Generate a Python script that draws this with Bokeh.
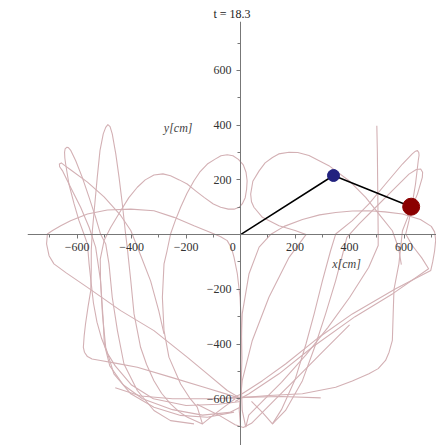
from bokeh.plotting import figure
from bokeh.models import Range1d, FixedTicker, Label
from bokeh.embed import file_html
from bokeh.resources import INLINE

# ---------------- data (cm) ----------------
major_ticks = [-600, -400, -200, 200, 400, 600]
minor_ticks = [-700, -500, -300, -100, 100, 300, 500, 700]
tick_text = {-600: "\u2212600", -400: "\u2212400", -200: "\u2212200",
             200: "200", 400: "400", 600: "600"}

rod_x = [0, 341, 626]
rod_y = [0, 216, 102]
bob1 = (341, 216)
bob2 = (626, 102)
time_text = "18.3"

strand_01 = [(-6, -595), (-49, -570), (-122, -509), (-195, -449), (-318, -351), (-440, -278),
             (-562, -193), (-640, -140), (-685, -107), (-703, -77), (-712, -34), (-709, 2),
             (-690, 15), (-660, 32), (-624, 51), (-562, 75), (-489, 90), (-403, 93),
             (-318, 87), (-244, 63), (-171, 32), (-110, 8), (-73, -8), (-49, -22),
             (-33, -50), (-24, -83), (-12, -143), (-2, -229), (3, -330), (5, -450),
             (2, -560), (-5, -640), (0, -704)]
strand_02 = [(-24, -649), (-122, -668), (-220, -661), (-318, -631), (-403, -582), (-465, -509),
             (-495, -412), (-507, -290), (-514, -168), (-515, -90), (-501, -22), (-477, 26),
             (-440, 87), (-410, 135), (-379, 173), (-350, 200), (-318, 218), (-285, 222),
             (-257, 215), (-225, 200), (-196, 185), (-165, 160), (-134, 136), (-100, 112),
             (-73, 100), (-45, 93), (-24, 93), (-5, 100), (6, 112), (17, 135), (22, 165),
             (24, 197), (20, 228), (10, 255), (-8, 275), (-28, 288), (-49, 292), (-72, 288),
             (-95, 275), (-122, 258), (-150, 228), (-171, 197), (-197, 150), (-220, 100),
             (-240, 50), (-257, 2), (-270, -60), (-281, -107), (-287, -229), (-281, -351),
             (-263, -448), (-220, -546), (-185, -600), (-159, -631), (-140, -692),
             (-100, -660), (-60, -630), (-20, -600)]
strand_03 = [(-12, -595), (-134, -558), (-257, -521), (-379, -485), (-460, -470), (-514, -460),
             (-545, -455), (-562, -446), (-573, -430), (-577, -412), (-574, -370), (-569, -326),
             (-560, -265), (-550, -205), (-548, -130), (-548, -58), (-544, 14), (-535, 112),
             (-526, 209), (-516, 307), (-504, 368), (-495, 392), (-487, 402), (-479, 395),
             (-471, 368), (-458, 295), (-446, 209), (-434, 112), (-422, 2), (-416, -46),
             (-403, -168), (-391, -290), (-367, -412), (-345, -475), (-318, -534),
             (-290, -580), (-257, -619), (-225, -648), (-195, -668), (-140, -692)]
strand_04 = [(-171, -692), (-257, -680), (-318, -643), (-379, -570), (-428, -473), (-452, -351),
             (-471, -229), (-483, -107), (-495, -34), (-514, 2), (-532, 63), (-556, 136),
             (-581, 209), (-605, 270), (-624, 309), (-632, 318), (-638, 319), (-644, 313),
             (-646, 301), (-645, 280), (-642, 258), (-630, 185), (-611, 112), (-593, 51),
             (-575, 2), (-562, -34), (-556, -107), (-548, -180), (-540, -250), (-527, -320),
             (-510, -380), (-488, -435), (-460, -480), (-400, -550), (-320, -600),
             (-200, -625), (-80, -620), (0, -610)]
strand_05 = [(-281, -363), (-300, -280), (-330, -170), (-365, -80), (-403, 15), (-440, 70),
             (-501, 138), (-562, 192), (-624, 237), (-645, 252), (-658, 262), (-665, 258),
             (-664, 248), (-654, 234), (-624, 173), (-587, 100), (-556, 27), (-532, -46),
             (-514, -168), (-505, -300), (-500, -400), (-480, -480), (-430, -550),
             (-360, -600), (-250, -640), (-140, -660), (-40, -650), (0, -630)]
strand_06 = [(19, -704), (6, -643), (0, -473), (6, -290), (31, -143), (68, -46), (110, 0),
             (160, 30), (227, 55), (290, 72), (349, 81), (410, 86), (471, 87), (530, 83),
             (594, 75), (660, 55), (700, 30), (712, 10), (716, -20), (712, -60), (705, -100),
             (698, -131), (569, -198), (410, -290), (288, -375), (165, -473), (80, -534),
             (6, -582), (-40, -600)]
strand_07 = [(40, -610), (80, -650), (117, -692), (150, -640), (200, -530), (240, -400),
             (270, -290), (300, -170), (330, -60), (349, 2), (410, 51), (471, 112),
             (532, 185), (594, 258), (630, 295), (642, 305), (649, 307), (654, 300),
             (655, 290), (652, 270), (642, 185), (630, 112), (618, 51), (606, 2), (630, -40),
             (665, -85), (690, -125), (560, -215), (420, -300), (263, -412), (141, -509),
             (31, -582), (-20, -610)]
strand_08 = [(117, -692), (165, -643), (227, -534), (276, -400), (312, -290), (349, -168),
             (375, -70), (390, -10), (435, 39), (496, 100), (557, 161), (618, 221),
             (645, 238), (661, 240), (668, 228), (667, 209), (649, 148), (618, 75), (594, 14),
             (581, -107), (563, -200), (560, -290), (557, -387), (545, -430), (532, -460),
             (505, -490), (471, -509), (410, -535), (349, -558), (227, -582), (104, -588),
             (19, -595), (-30, -598)]
strand_09 = [(500, 398), (502, 300), (503, 200), (504, 100), (505, 0), (505, -40),
             (470, -120), (400, -230), (320, -340), (240, -440), (150, -540), (80, -610),
             (30, -660), (19, -704)]
strand_10 = [(590, -110), (580, -50), (557, 14), (508, 75), (459, 136), (398, 197),
             (324, 252), (251, 289), (210, 300), (178, 301), (140, 295), (117, 282),
             (90, 262), (68, 233), (45, 195), (37, 148), (40, 120), (49, 100), (80, 63),
             (141, 32), (200, 15), (240, 0), (178, -83), (104, -229), (43, -387),
             (6, -534), (0, -600)]
strand_11 = [(-460, -560), (-367, -590), (-250, -600), (-100, -600), (0, -595), (150, -592),
             (294, -597)]
strand_12 = [(-160, -620), (-80, -660), (-20, -695), (10, -705), (40, -690), (80, -650),
             (130, -600), (200, -530), (300, -430), (400, -330)]

strands = [strand_01, strand_02, strand_03, strand_04, strand_05, strand_06,
           strand_07, strand_08, strand_09, strand_10, strand_11, strand_12]

# ---------------- figure ----------------
font = "Liberation Serif"
p = figure(width=436, height=445, output_backend="svg", toolbar_location=None,
           x_range=Range1d(-782, 719), y_range=Range1d(-771, 779),
           min_border_left=27, min_border_right=0, min_border_top=21, min_border_bottom=0,
           title="t = " + time_text)
p.title.align = "center"
p.title.text_font = font
p.title.text_font_style = "normal"
p.title.text_font_size = "12px"
p.title.text_color = "#222222"
p.title.standoff = 2
p.title.offset = 0
p.outline_line_color = None
p.grid.visible = False
p.background_fill_color = "white"
p.border_fill_color = "white"

for ax in (p.xaxis, p.yaxis):
    ax.fixed_location = 0
    ax.ticker = FixedTicker(ticks=major_ticks, minor_ticks=minor_ticks)
    ax.major_label_overrides = tick_text
    ax.axis_line_color = "#777777"
    ax.major_tick_line_color = "#777777"
    ax.minor_tick_line_color = "#777777"
    ax.major_tick_out = 4
    ax.major_tick_in = 0
    ax.minor_tick_out = 3
    ax.minor_tick_in = 0
    ax.major_label_text_font = font
    ax.major_label_text_font_size = "12px"
    ax.major_label_text_color = "#333333"
p.xaxis.major_label_standoff = 4
p.yaxis.major_label_standoff = 5

trace_color = "#d3b0b4"
p.multi_line(xs=[[pt[0] for pt in s] for s in strands],
             ys=[[pt[1] for pt in s] for s in strands],
             line_color=trace_color, line_width=1.1, line_join="round")

p.line(rod_x, rod_y, line_color="black", line_width=1.5)
p.scatter([bob1[0]], [bob1[1]], size=12, fill_color="#22227f", line_color="#22227f")
p.scatter([bob2[0]], [bob2[1]], size=17, fill_color="#8b0000", line_color="#8b0000")

p.add_layout(Label(x=389, y=-106, text="x[cm]", text_font=font, text_font_style="italic",
                   text_font_size="12px", text_align="center", text_baseline="middle",
                   text_color="#444444"))
p.add_layout(Label(x=-229, y=388, text="y[cm]", text_font=font, text_font_style="italic",
                   text_font_size="12px", text_align="center", text_baseline="middle",
                   text_color="#444444"))
p.add_layout(Label(x=-29, y=-44, text="0", text_font=font,
                   text_font_size="12px", text_align="center", text_baseline="middle",
                   text_color="#333333"))

open("out.html", "w").write(file_html(p, INLINE))
